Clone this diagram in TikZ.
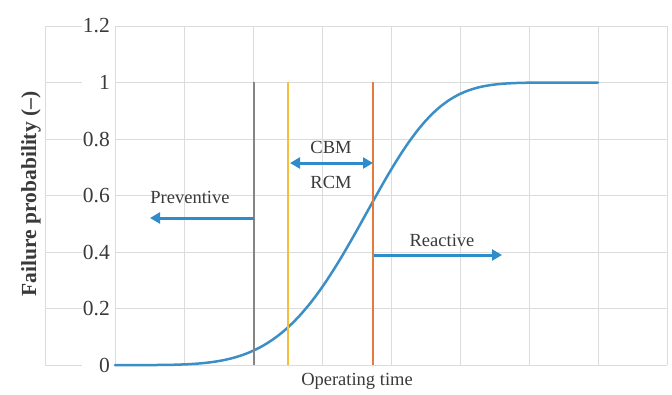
\documentclass[tikz,border=0pt]{standalone}
\usepackage{fontspec}
\setmainfont{Liberation Serif}
\usetikzlibrary{arrows.meta}
\definecolor{gridc}{HTML}{DCDCDC}
\definecolor{curvec}{HTML}{3C8FC6}
\definecolor{arrc}{HTML}{2F8CCB}
\definecolor{yel}{HTML}{F5BE3C}
\definecolor{ora}{HTML}{E57A3C}
\definecolor{gry}{HTML}{858585}
\definecolor{txt}{HTML}{3A3A3A}
\tikzset{
  grid/.style={draw=gridc, line width=1pt},
  ticklab/.style={anchor=east, inner sep=0pt, font=\fontsize{21.5}{22}\selectfont, text=txt},
  lab/.style={anchor=base, inner sep=0pt, font=\fontsize{18.5}{20}\selectfont, text=txt},
  vline/.style={line width=2pt},
  barrow/.style={draw=arrc, line width=3pt, -{Triangle[length=10pt,width=11pt]}},
  barrow2/.style={draw=arrc, line width=3pt, {Triangle[length=10pt,width=11pt]}-{Triangle[length=10pt,width=11pt]}},
}
\begin{document}
\begin{tikzpicture}[x=1pt,y=-1pt]
\useasboundingbox (0,0) rectangle (672,394);
% grid
\foreach \v/\t in {0/0,0.2/0.2,0.4/0.4,0.6/0.6,0.8/0.8,1/1,1.2/1.2}{
  \draw[grid] (45,{365-282.5*\v}) -- (82,{365-282.5*\v});
  \draw[grid] (115,{365-282.5*\v}) -- (667,{365-282.5*\v});
  \node[ticklab] at (110,{365-282.5*\v}) {\t};
}
\draw[grid] (45,26) -- (45,365);
\foreach \k in {0,...,8}{
  \draw[grid] ({115+69*\k},26) -- ({115+69*\k},365);
}
% curve
\draw[curvec, line width=2.5pt, line cap=round, line join=round]
  (115,365) -- plot[domain=0.05:7, samples=120, smooth]
  ({115+69*\x},{365-282.5*(1-exp(-((\x/3.86)^4.5)))});
% vertical lines
\coordinate (gT) at (254,82); \coordinate (gB) at (254,365);
\coordinate (yT) at (288,82); \coordinate (yB) at (288,365);
\coordinate (oT) at (373,82); \coordinate (oB) at (373,365);
\draw[vline, gry] (gT) -- (gB);
\draw[vline, yel] (yT) -- (yB);
\draw[vline, ora] (oT) -- (oB);
% arrows
\coordinate (pS) at (254,218); \coordinate (pE) at (150,218);
\coordinate (cS) at (290,163); \coordinate (cE) at (373,163);
\coordinate (rS) at (374,255); \coordinate (rE) at (502,255);
\draw[barrow] (pS) -- (pE);
\draw[barrow2] (cS) -- (cE);
\draw[barrow] (rS) -- (rE);
% labels
\node[lab] (prev) at (190,203) {Preventive};
\node[lab] (cbm) at (331,153) {CBM};
\node[lab] (rcm) at (331,188) {RCM};
\node[lab] (reac) at (442,246) {Reactive};
\node[lab] (xlab) at (357,385) {Operating time};
\node[inner sep=0pt, rotate=90, text=txt, font=\bfseries\fontsize{21.5}{22}\selectfont] (ylab) at (31,194) {Failure probability (–)};
\end{tikzpicture}
\end{document}
